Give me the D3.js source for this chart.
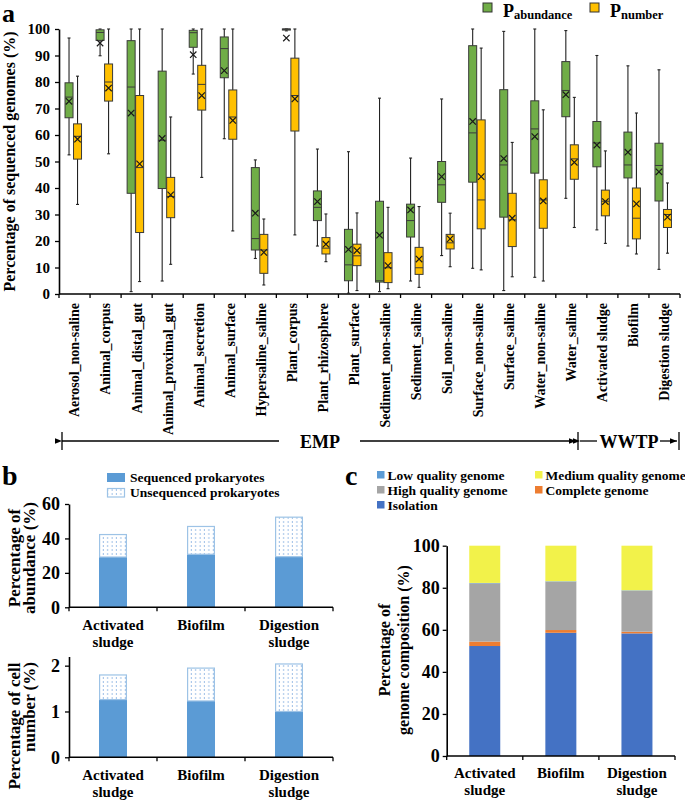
<!DOCTYPE html>
<html><head><meta charset="utf-8">
<script src="https://cdn.jsdelivr.net/npm/d3@7"></script>
<style>
body{margin:0;background:#fff}
svg{display:block}
text{font-family:"Liberation Serif","Times New Roman",serif;font-weight:bold;fill:#000}
</style>
</head><body>
<svg id="chart" width="685" height="802"></svg>
<script>
// ---------- DATA ----------
// Panel a: [min, q1, median, q3, max, mean]
const categories = ["Aerosol_non-saline","Animal_corpus","Animal_distal_gut","Animal_proximal_gut","Animal_secretion","Animal_surface","Hypersaline_saline","Plant_corpus","Plant_rhizosphere","Plant_surface","Sediment_non-saline","Sediment_saline","Soil_non-saline","Surface_non-saline","Surface_saline","Water_non-saline","Water_saline","Activated sludge","Biofilm","Digestion sludge"];
const pAbundance = [
  [52.5,66.5,74.3,79.7,96.6,72.7],
  [89.9,95.7,98.7,99.7,100,94.7],
  [0.9,38.0,78.1,95.6,100,68.3],
  [4.9,39.8,58.0,84.1,100,58.7],
  [83.0,93.1,98.6,99.5,100,90.3],
  [58.6,81.6,92.6,97.0,100,84.3],
  [13.4,16.6,20.9,47.7,50.6,30.5],
  [99.3,99.6,100,100,100,96.6],
  [18.1,27.7,32.7,38.9,54.7,34.9],
  [0.3,5.0,11.0,24.4,53.7,16.8],
  [0.9,4.5,5.0,35.0,73.9,22.2],
  [4.9,21.5,27.7,33.9,51.3,31.7],
  [14.5,34.6,41.2,50.0,73.6,44.3],
  [9.7,42.2,60.8,93.7,100,65.1],
  [1.3,29.0,48.7,77.1,99.1,51.1],
  [6.3,45.6,62.3,72.9,100,59.4],
  [36.1,66.9,76.8,87.7,99.4,75.2],
  [24.2,48.0,57.0,65.1,90.0,56.2],
  [18.1,43.8,48.7,61.1,86.1,53.5],
  [9.3,35.1,48.5,56.9,84.6,46.1]
];
const pNumber = [
  [33.8,50.9,59.5,64.2,82.2,58.4],
  [52.9,72.8,80.0,86.8,100,77.7],
  [4.7,23.2,47.7,74.9,100,49.1],
  [11.2,28.8,36.8,44.0,66.8,37.4],
  [44.0,69.4,79.1,86.3,100,74.9],
  [23.8,58.4,66.8,77.0,100,65.5],
  [3.4,7.8,16.6,22.5,28.3,15.7],
  [22.3,61.5,74.9,89.0,100,73.6],
  [12.2,15.1,17.3,21.3,30.2,18.8],
  [1.3,10.7,14.4,18.8,30.6,16.4],
  [2.0,4.3,9.9,15.6,32.7,10.7],
  [2.5,7.4,9.9,17.6,33.0,13.2],
  [10.3,17.0,19.3,22.5,30.5,20.8],
  [9.1,24.6,35.5,65.7,92.8,44.3],
  [6.5,17.9,28.0,38.0,57.2,28.6],
  [4.9,24.8,35.5,43.1,69.5,35.1],
  [25.1,43.3,51.0,56.3,74.2,49.7],
  [19.1,29.5,35.0,39.2,54.0,34.9],
  [15.1,20.8,28.6,40.0,68.3,34.0],
  [15.4,25.1,30.0,31.9,41.9,29.0]
];
const aTicks = [0,10,20,30,40,50,60,70,80,90,100];

// Panel b
const bCategories = [["Activated","sludge"],["Biofilm"],["Digestion","sludge"]];
const abundSequenced = [29.2,30.8,29.4];
const abundUnsequenced = [13.4,16.5,23.3];
const cellSequenced = [1.26,1.23,1.00];
const cellUnsequenced = [0.55,0.73,1.05];
const bAbundTicks = [0,20,40,60];
const bCellTicks = [0,1,2];

// Panel c
const cCategories = [["Activated","sludge"],["Biofilm"],["Digestion","sludge"]];
const isolation = [52.3,58.6,58.3];
const completeGenome = [2.1,1.3,0.8];
const highQuality = [27.7,23.0,19.5];
const lowQuality = [0.2,0.2,0.2];
const mediumQuality = [17.7,16.9,21.2];
const cTicks = [0,20,40,60,80,100];

// ---------- DRAW ----------
const svg = d3.select("#chart");
const GREEN="#70AD47", YELLOW="#FFC000", STROKE="#3a3a3a";
const defs = svg.append("defs");
const pat = defs.append("pattern").attr("id","dots").attr("patternUnits","userSpaceOnUse")
  .attr("width",4.4).attr("height",4);
pat.append("rect").attr("width",4.4).attr("height",4).attr("fill","#fff");
pat.append("rect").attr("x",1.6).attr("y",1.5).attr("width",1).attr("height",1).attr("fill","#3f7fd0");
["L","R"].forEach(k=>{
  const m = defs.append("marker").attr("id","arr"+k).attr("viewBox","0 0 10 10")
    .attr("refX",k==="R"?10:0).attr("refY",5).attr("markerWidth",7).attr("markerHeight",7)
    .attr("markerUnits","userSpaceOnUse").attr("orient","auto");
  m.append("path").attr("d",k==="R"?"M0,1 L10,5 L0,9 Z":"M10,1 L0,5 L10,9 Z").attr("fill","#000");
});

function styleAxis(g, fs){
  g.select(".domain").attr("stroke","#000").attr("stroke-width",1.6);
  g.selectAll(".tick line").attr("stroke","#000").attr("stroke-width",1.3);
  g.selectAll(".tick text").style("font-size",fs+"px").attr("fill","#000");
}

// ===== Panel a =====
const xA = d3.scaleBand().domain(categories).range([59,680]);
const yA = d3.scaleLinear().domain([0,100]).range([294,29]);
const bw = xA.bandwidth();

const gyA = svg.append("g").attr("transform","translate(59,0)")
  .call(d3.axisLeft(yA).tickValues(aTicks).tickSize(4).tickSizeOuter(0).tickPadding(5));
styleAxis(gyA,15);

svg.append("line").attr("x1",xA.range()[0]).attr("x2",xA.range()[1]).attr("y1",yA(0)).attr("y2",yA(0))
  .attr("stroke","#000").attr("stroke-width",1.6);
const bounds = categories.map(c=>xA(c)).concat([xA.range()[1]]);
svg.selectAll(".xtickA").data(bounds).enter().append("line")
  .attr("x1",d=>d).attr("x2",d=>d).attr("y1",yA(0)).attr("y2",yA(0)+4)
  .attr("stroke","#000").attr("stroke-width",1.3);

svg.selectAll(".xlabA").data(categories).enter().append("text")
  .attr("transform",d=>`translate(${xA(d)+bw/2},303) rotate(-90)`)
  .attr("text-anchor","end").attr("dy","0.35em").style("font-size","14px").text(d=>d);

function drawBox(vals, x0, color){
  const [mn,q1,md,q3,mx,mean] = vals;
  const w = 8, cx = x0 + w/2;
  const g = svg.append("g");
  g.append("line").attr("x1",cx).attr("x2",cx).attr("y1",yA(mx)).attr("y2",yA(mn))
    .attr("stroke","#222").attr("stroke-width",1.1);
  [mx,mn].forEach(v=>g.append("line").attr("x1",cx-1.5).attr("x2",cx+1.5).attr("y1",yA(v)).attr("y2",yA(v))
    .attr("stroke","#222").attr("stroke-width",1.1));
  g.append("rect").attr("x",x0).attr("width",w).attr("y",yA(q3)).attr("height",Math.max(yA(q1)-yA(q3),1))
    .attr("fill",color).attr("stroke",STROKE).attr("stroke-width",1);
  g.append("line").attr("x1",x0).attr("x2",x0+w).attr("y1",yA(md)).attr("y2",yA(md))
    .attr("stroke",STROKE).attr("stroke-width",1);
  const ym = yA(mean), s = 3.2;
  g.append("path").attr("d",`M${cx-s},${ym-s}L${cx+s},${ym+s}M${cx-s},${ym+s}L${cx+s},${ym-s}`)
    .attr("stroke","#1a1a1a").attr("stroke-width",1.2).attr("fill","none");
}
categories.forEach((c,i)=>{
  const cx = xA(c)+bw/2;
  drawBox(pAbundance[i], cx-9.5, GREEN);
  drawBox(pNumber[i], cx-1, YELLOW);
});

svg.append("text").attr("transform",`translate(15,${(yA(0)+yA(100))/2}) rotate(-90)`)
  .attr("text-anchor","middle").style("font-size","16px").text("Percentage of sequenced genomes (%)");
svg.append("text").attr("x",2).attr("y",22).style("font-size","26px").text("a");

// legend a
const legA = [{c:GREEN,x:483,sub:"abundance"},{c:YELLOW,x:590,sub:"number"}];
legA.forEach(l=>{
  svg.append("rect").attr("x",l.x).attr("y",3).attr("width",9).attr("height",9)
    .attr("fill",l.c).attr("stroke","#333").attr("stroke-width",1);
  const t = svg.append("text").attr("x",l.x+20).attr("y",17);
  t.append("tspan").style("font-size","18px").text("P");
  t.append("tspan").attr("dy",1.5).style("font-size","12.5px").text(l.sub);
});

// EMP / WWTP bracket
const yb = 441;
function hline(x1,x2,marker){
  const l = svg.append("line").attr("x1",x1).attr("x2",x2).attr("y1",yb).attr("y2",yb)
    .attr("stroke","#000").attr("stroke-width",1.3);
  if(marker) l.attr("marker-end","url(#arr"+marker+")");
}
function vbar(x){ svg.append("line").attr("x1",x).attr("x2",x).attr("y1",yb-9).attr("y2",yb+9).attr("stroke","#000").attr("stroke-width",1.3); }
vbar(62); hline(279,62,"L");
svg.append("text").attr("x",320).attr("y",yb+6.5).attr("text-anchor","middle").style("font-size","18px").text("EMP");
hline(360,576,"R"); vbar(578);
hline(597,580,"L");
svg.append("text").attr("x",629).attr("y",yb+6.5).attr("text-anchor","middle").style("font-size","18px").text("WWTP");
hline(660,677,"R"); vbar(679);

// ===== Panel b =====
const bNames = bCategories.map(d=>d.join(" "));
const xB = d3.scaleBand().domain(bNames).range([69,333]);
const barWB = 28;
function xAxisBands(scale, y, labels, baseY){
  svg.append("line").attr("x1",scale.range()[0]).attr("x2",scale.range()[1]).attr("y1",y).attr("y2",y)
    .attr("stroke","#000").attr("stroke-width",1.6);
  const bb = scale.domain().map(d=>scale(d)).concat([scale.range()[1]]);
  bb.forEach(b=>svg.append("line").attr("x1",b).attr("x2",b).attr("y1",y).attr("y2",y+4)
    .attr("stroke","#000").attr("stroke-width",1.3));
  scale.domain().forEach((d,i)=>{
    const t = svg.append("text").attr("x",scale(d)+scale.bandwidth()/2).attr("y",baseY)
      .attr("text-anchor","middle").style("font-size","15px");
    labels[i].forEach((ln,j)=>t.append("tspan").attr("x",scale(d)+scale.bandwidth()/2).attr("dy",j?17:0).text(ln));
  });
}
function drawStackB(yS, seq, unseq){
  bNames.forEach((d,i)=>{
    const x = xB(d)+xB.bandwidth()/2-barWB/2;
    svg.append("rect").attr("x",x).attr("width",barWB).attr("y",yS(seq[i])).attr("height",yS(0)-yS(seq[i]))
      .attr("fill","#5B9BD5");
    svg.append("rect").attr("x",x+0.6).attr("width",barWB-1.2).attr("y",yS(seq[i]+unseq[i])+0.6)
      .attr("height",yS(seq[i])-yS(seq[i]+unseq[i])-0.6)
      .attr("fill","url(#dots)").attr("stroke","#9DC3E6").attr("stroke-width",1.2);
  });
}
const yB1 = d3.scaleLinear().domain([0,60]).range([607.3,504]);
drawStackB(yB1, abundSequenced, abundUnsequenced);
const gb1 = svg.append("g").attr("transform","translate(69,0)")
  .call(d3.axisLeft(yB1).tickValues(bAbundTicks).tickSize(4).tickSizeOuter(0).tickPadding(5));
styleAxis(gb1,18);
xAxisBands(xB, yB1(0), bCategories, 630);

const yB2 = d3.scaleLinear().domain([0,2.2]).range([757.3,656.5]);
drawStackB(yB2, cellSequenced, cellUnsequenced);
const gb2 = svg.append("g").attr("transform","translate(69,0)")
  .call(d3.axisLeft(yB2).tickValues(bCellTicks).tickFormat(d3.format("d")).tickSize(4).tickSizeOuter(0).tickPadding(5));
styleAxis(gb2,18);
xAxisBands(xB, yB2(0), bCategories, 780);

svg.append("text").attr("transform","translate(20,558) rotate(-90)").attr("text-anchor","middle")
  .style("font-size","17px").text("Percentage of");
svg.append("text").attr("transform","translate(35,558) rotate(-90)").attr("text-anchor","middle")
  .style("font-size","17px").text("abundance  (%)");
svg.append("text").attr("transform","translate(20,726) rotate(-90)").attr("text-anchor","middle")
  .style("font-size","17px").text("Percentage of cell");
svg.append("text").attr("transform","translate(35,707) rotate(-90)").attr("text-anchor","middle")
  .style("font-size","17px").text("number (%)");
svg.append("text").attr("x",2).attr("y",485).style("font-size","28px").text("b");

// legend b
svg.append("rect").attr("x",107).attr("y",473).attr("width",18).attr("height",9).attr("fill","#5B9BD5");
svg.append("rect").attr("x",107.5).attr("y",488.5).attr("width",17).attr("height",8.5)
  .attr("fill","url(#dots)").attr("stroke","#9DC3E6").attr("stroke-width",1.2);
svg.append("text").attr("x",130).attr("y",482).style("font-size","13.5px").text("Sequenced prokaryotes");
svg.append("text").attr("x",130).attr("y",497).style("font-size","13.5px").text("Unsequenced prokaryotes");

// ===== Panel c =====
const cNames = cCategories.map(d=>d.join(" "));
const xC = d3.scaleBand().domain(cNames).range([446.7,675]);
const yC = d3.scaleLinear().domain([0,100]).range([756,545.7]);
const barWC = 31;
const cSeries = [
  {name:"Isolation", vals:isolation, color:"#4472C4"},
  {name:"Complete genome", vals:completeGenome, color:"#ED7D31"},
  {name:"High quality genome", vals:highQuality, color:"#A5A5A5"},
  {name:"Low quality genome", vals:lowQuality, color:"#5B9BD5"},
  {name:"Medium quality genome", vals:mediumQuality, color:"#F2F24A"}
];
const stackData = cNames.map((n,i)=>{ const o={name:n}; cSeries.forEach(s=>o[s.name]=s.vals[i]); return o; });
const stacked = d3.stack().keys(cSeries.map(s=>s.name))(stackData);
stacked.forEach((layer,k)=>{
  layer.forEach((seg,i)=>{
    const x = xC(cNames[i])+xC.bandwidth()/2-barWC/2;
    svg.append("rect").attr("x",x).attr("width",barWC).attr("y",yC(seg[1])).attr("height",Math.max(0,yC(seg[0])-yC(seg[1])))
      .attr("fill",cSeries[k].color);
  });
});
const gc = svg.append("g").attr("transform","translate(446.7,0)")
  .call(d3.axisLeft(yC).tickValues(cTicks).tickSize(4).tickSizeOuter(0).tickPadding(3));
styleAxis(gc,18);
xAxisBands(xC, yC(0), cCategories, 778);

svg.append("text").attr("transform","translate(390,650) rotate(-90)").attr("text-anchor","middle")
  .style("font-size","16px").text("Percentage of");
svg.append("text").attr("transform","translate(409,650) rotate(-90)").attr("text-anchor","middle")
  .style("font-size","16px").text("genome composition (%)");
svg.append("text").attr("x",345).attr("y",485).style("font-size","28px").text("c");

// legend c
const legC = [
  {name:"Low quality genome", color:"#5B9BD5", x:377, y:480},
  {name:"Medium quality genome", color:"#F2F24A", x:535, y:480},
  {name:"High quality genome", color:"#A5A5A5", x:377, y:495},
  {name:"Complete genome", color:"#ED7D31", x:535, y:495},
  {name:"Isolation", color:"#4472C4", x:377, y:510}
];
legC.forEach(l=>{
  svg.append("rect").attr("x",l.x).attr("y",l.y-9).attr("width",7.5).attr("height",7.5).attr("fill",l.color);
  svg.append("text").attr("x",l.x+10.5).attr("y",l.y).style("font-size","13.5px").text(l.name);
});
</script>
</body></html>
